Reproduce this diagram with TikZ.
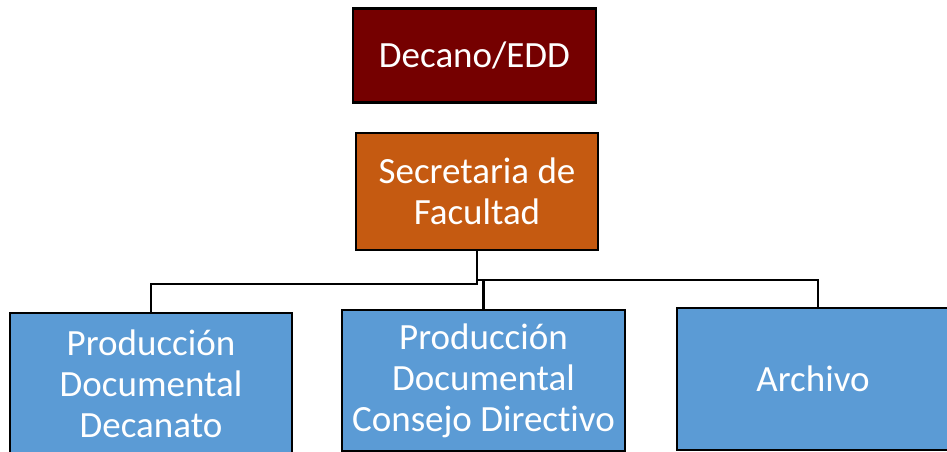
\documentclass[tikz,border=0pt]{standalone}
\usepackage{fontspec}
\setmainfont[Ligatures=NoCommon]{Carlito}
\usetikzlibrary{positioning}
\definecolor{decanored}{HTML}{750000}
\definecolor{secorange}{HTML}{C55A11}
\definecolor{unitblue}{HTML}{5B9BD5}
\tikzset{
  orgbox/.style={draw=black, line width=2.5pt, text=white, align=center,
    font=\fontsize{37}{41}\selectfont, inner sep=0pt},
  link/.style={draw=black, line width=2.2pt},
}

\begin{document}
\begin{tikzpicture}[x=1pt, y=-1pt]
            \useasboundingbox (0,0) rectangle (947,452);

            \node[orgbox, fill=decanored, minimum width=243pt, minimum height=94pt] (decano) at (474.5,55.5) {Decano/EDD};
            \node[orgbox, fill=secorange, minimum width=242pt, minimum height=117pt] (secre) at (477,191.5) {Secretaria de\\Facultad};

            \node[orgbox, fill=unitblue, minimum width=282pt, minimum height=141pt] (prodDec) at (151,383.5) {Producción\\Documental\\Decanato};
            \node[orgbox, fill=unitblue, minimum width=283pt, minimum height=141pt] (prodCons) at (483.5,380.5) {Producción\\Documental\\Consejo Directivo};
            \node[orgbox, fill=unitblue, minimum width=272pt, minimum height=142pt] (archivo) at (813,379) {Archivo};

            % elbow joints below the secretaria
            \coordinate (jl) at (477,284);
            \coordinate (jr) at (477,280);

            \draw[link] (secre.south) -- (jl) -| (prodDec.north);
            \draw[link] (secre.south) -- (jr) -| ([xshift=5pt]archivo.north);
            \draw[link] (prodCons.north |- jr) -- (prodCons.north);
\end{tikzpicture}
\end{document}
